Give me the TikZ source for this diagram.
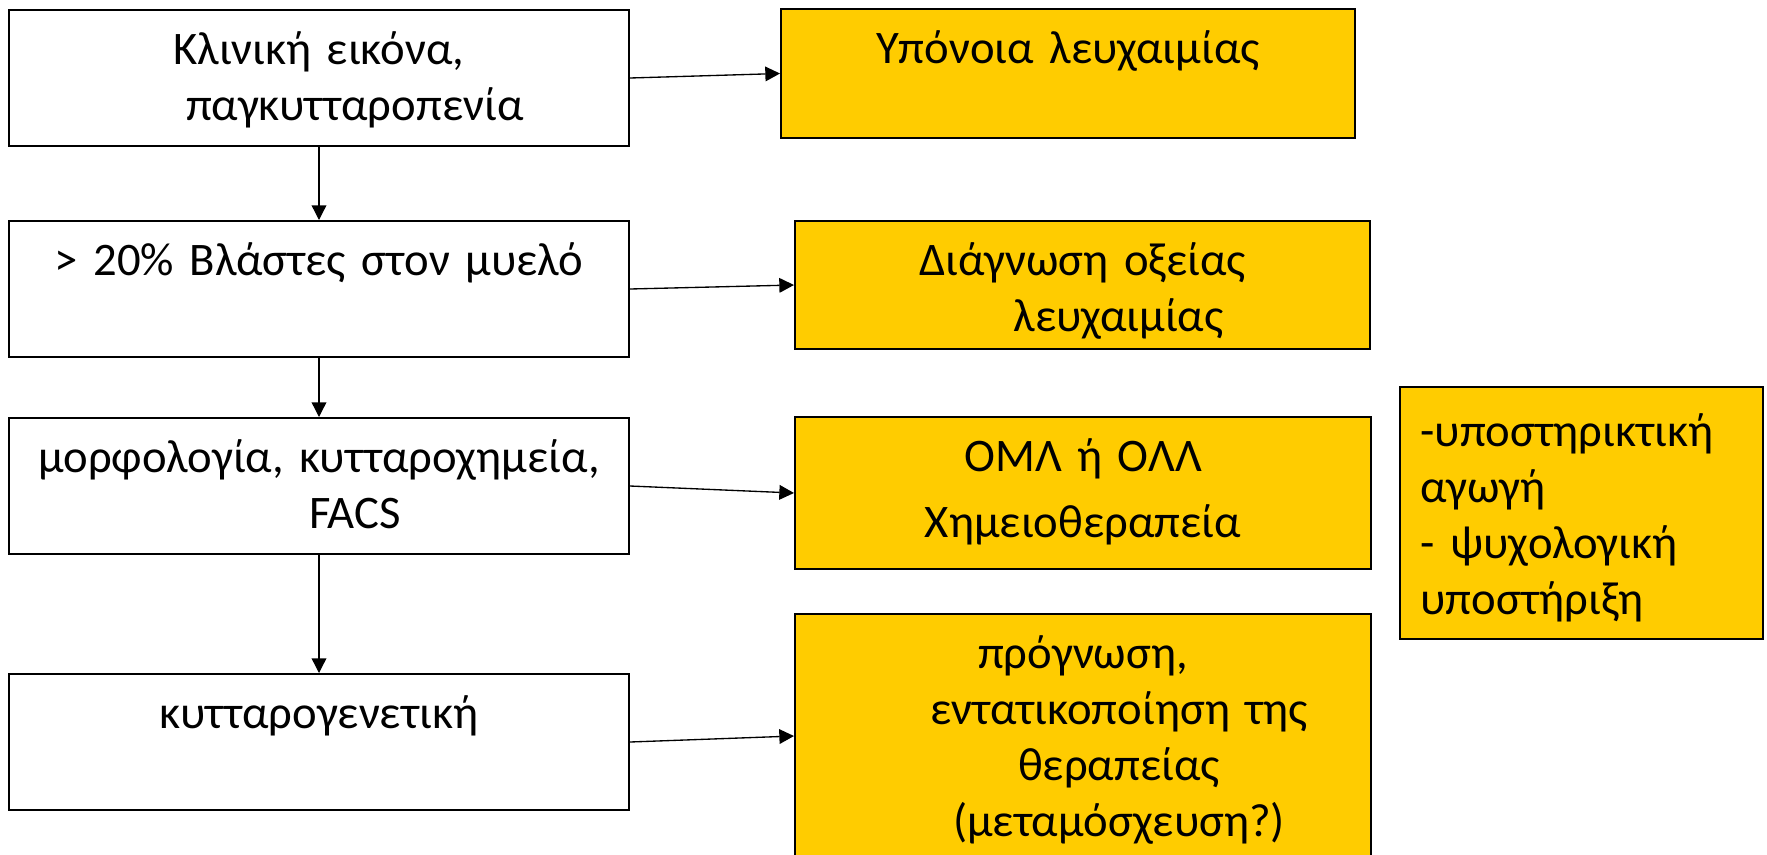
\documentclass[tikz,border=0pt]{standalone}
\usepackage{fontspec}
\setmainfont{Carlito}
\usetikzlibrary{arrows.meta}

\definecolor{boxyellow}{RGB}{255,204,0}
\newcommand{\pushr}{\hspace*{54pt}}

\tikzset{every picture/.style={line width=0.75pt}}
\tikzset{
  whitebox/.style={draw, line width=1.5pt, fill=white, anchor=north west, inner sep=0pt},
  yellowbox/.style={whitebox, fill=boxyellow},
  boxtext/.style={anchor=base, inner sep=0pt, align=center, font=\fontsize{35}{42}\selectfont},
  flowarrow/.style={-{Triangle[length=11pt,width=11pt]}, line width=1pt},
}

\begin{document}
\begin{tikzpicture}[x=0.75pt,y=0.75pt,yscale=-1,xscale=1]
\useasboundingbox (0,0) rectangle (1767,854);

%Shape: Rectangle [left column]
\node [whitebox, minimum width=465pt, minimum height=102pt] (clin) at (8,9) {};
\node [whitebox, minimum width=465pt, minimum height=102pt] (blast) at (8,220) {};
\node [whitebox, minimum width=465pt, minimum height=102pt] (morph) at (8,417) {};
\node [whitebox, minimum width=465pt, minimum height=102pt] (cytog) at (8,673) {};

%Shape: Rectangle [right column]
\node [yellowbox, minimum width=430.5pt, minimum height=96.75pt] (susp) at (780,8) {};
\node [yellowbox, minimum width=431.25pt, minimum height=96pt] (diag) at (794,220) {};
\node [yellowbox, minimum width=432pt, minimum height=114pt] (chemo) at (794,416) {};
\node [yellowbox, minimum width=432pt, minimum height=183pt] (progn) at (794,613) {};
\node [yellowbox, minimum width=272.25pt, minimum height=189pt] (supp) at (1399,386) {};

% Text Node
\node [boxtext, text width=465pt] (clinT) at ([yshift=41.25pt]clin.north) {Κλινική εικόνα,\\ \pushr παγκυτταροπενία};
% Text Node
\node [boxtext, text width=465pt] (blastT) at ([yshift=41.25pt]blast.north) {> 20\% Βλάστες στον μυελό};
% Text Node
\node [boxtext, text width=465pt] (morphT) at ([yshift=41.25pt]morph.north) {μορφολογία, κυτταροχημεία,\\ \pushr FACS};
% Text Node
\node [boxtext, text width=465pt] (cytogT) at ([yshift=41.25pt]cytog.north) {κυτταρογενετική};
% Text Node
\node [boxtext, text width=430pt] (suspT) at ([yshift=41.25pt]susp.north) {Υπόνοια λευχαιμίας};
% Text Node
\node [boxtext, text width=430pt] (diagT) at ([yshift=41.25pt]diag.north) {Διάγνωση οξείας\\ \pushr λευχαιμίας};
% Text Node
\node [boxtext, text width=430pt] (chemoT) at ([yshift=41.25pt]chemo.north) {ΟΜΛ ή ΟΛΛ\\[8pt] Χημειοθεραπεία};
% Text Node
\node [boxtext, text width=430pt] (prognT) at ([yshift=41.25pt]progn.north) {πρόγνωση,\\ \pushr εντατικοποίηση της\\ \pushr θεραπείας\\ \pushr (μεταμόσχευση?)};
% Text Node
\node [boxtext, anchor=base west, align=left, text width=250pt] (suppT) at ([xshift=15.75pt,yshift=45pt]supp.north west) {-υποστηρικτική\\ αγωγή\\ - ψυχολογική\\ υποστήριξη};

%Straight Lines
\draw [flowarrow] (clin.south) -- (blast.north);
\draw [flowarrow] (blast.south) -- (morph.north);
\draw [flowarrow] (morph.south) -- (cytog.north);
\draw [flowarrow] (clin.east) -- (susp.west);
\draw [flowarrow] (blast.east) -- (diag.west);
\draw [flowarrow] (morph.east) -- (chemo.west);
\draw [flowarrow] (cytog.east) -- (progn.west);

\end{tikzpicture}
\end{document}
